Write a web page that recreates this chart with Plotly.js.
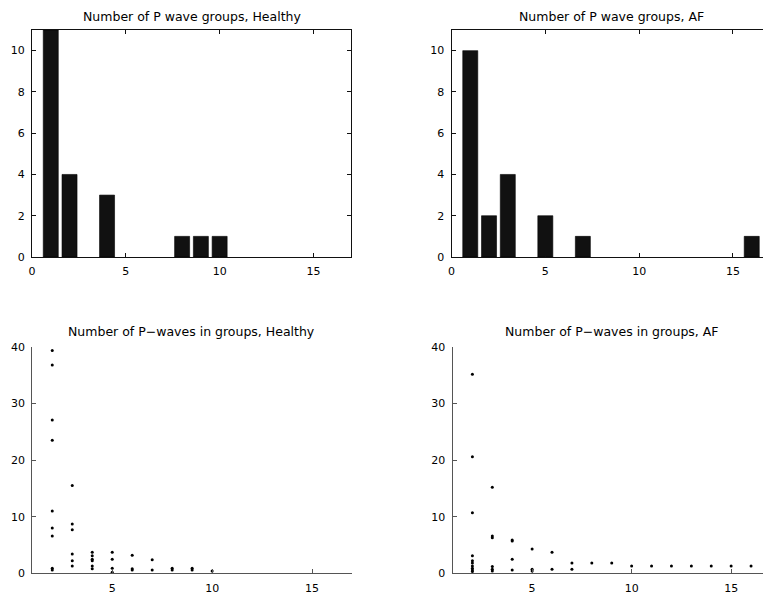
<!DOCTYPE html>
<html>
<head>
<meta charset="utf-8">
<script src="https://cdn.plot.ly/plotly-3.0.1.min.js"></script>
<style>html,body{margin:0;padding:0;overflow:hidden;background:#fff}</style>
</head>
<body>
<div id="chart" style="width:763px;height:595px"></div>
<script>
// Top: histogram of number of P wave groups
const healthyGroupX = [1, 2, 4, 8, 9, 10];
const healthyGroupCount = [11, 4, 3, 1, 1, 1];
const afGroupX = [1, 2, 3, 5, 7, 16];
const afGroupCount = [10, 2, 4, 2, 1, 1];

// Bottom: number of P-waves in groups (group size vs value)
const healthyWaveX = [2,2,2,2,2,2,2,2,2,
  3,3,3,3,3,3,
  4,4,4,4,4,4,
  5,5,5,5,
  6,6,6,
  7,7,
  8,8,
  9,9,
  10];
const healthyWaveY = [39.4,36.8,27.1,23.5,11.0,8.0,6.6,0.9,0.6,
  15.5,8.7,7.7,3.4,2.2,1.3,
  3.7,3.1,2.5,2.2,1.3,0.8,
  3.7,2.5,0.9,0.2,
  3.2,0.8,0.6,
  2.4,0.6,
  0.9,0.6,
  0.9,0.6,
  0.4];
const afWaveX = [2,2,2,2,2,2,2,2,2,2,
  3,3,3,3,3,3,
  4,4,4,4,
  5,5,5,
  6,6,
  7,7,
  8,9,10,11,12,13,14,15,16];
const afWaveY = [35.2,20.6,10.7,3.1,2.2,1.8,1.3,0.9,0.6,0.3,
  15.2,6.6,6.3,1.2,0.7,0.4,
  5.9,5.7,2.5,0.6,
  4.3,0.7,0.4,
  3.7,0.7,
  1.8,0.7,
  1.8,1.8,1.3,1.3,1.3,1.3,1.3,1.3,1.3];

const W = 763, H = 595;
const px = v => v / W;
const py = v => 1 - v / H;

const tickFont = {family: 'DejaVu Sans, sans-serif', size: 11, color: '#000'};
const titleFont = {family: 'DejaVu Sans, sans-serif', size: 12.5, color: '#000'};

function axis(lineColor, extra) {
  return Object.assign({
    showline: true, linecolor: lineColor, linewidth: 1,
    ticks: 'inside', ticklen: 4, tickcolor: lineColor, tickwidth: 1,
    showgrid: false, zeroline: false, tickfont: tickFont,
    ticklabelstandoff: 4, fixedrange: true
  }, extra);
}

const barStyle = {color: '#111111', line: {color: '#000', width: 0.6}};
const dotStyle = {color: '#000', size: 3};

const traces = [
  {type: 'bar', x: healthyGroupX, y: healthyGroupCount, width: 0.8, marker: barStyle, xaxis: 'x', yaxis: 'y', hoverinfo: 'x+y'},
  {type: 'bar', x: afGroupX, y: afGroupCount, width: 0.8, marker: barStyle, xaxis: 'x2', yaxis: 'y2', hoverinfo: 'x+y'},
  {type: 'scatter', mode: 'markers', x: healthyWaveX, y: healthyWaveY, marker: dotStyle, xaxis: 'x3', yaxis: 'y3', cliponaxis: false},
  {type: 'scatter', mode: 'markers', x: afWaveX, y: afWaveY, marker: dotStyle, xaxis: 'x4', yaxis: 'y4', cliponaxis: false}
];

const TOP = '#111', BOT = '#555';

const layout = {
  width: W, height: H,
  margin: {l: 0, r: 0, t: 0, b: 0},
  paper_bgcolor: '#fff', plot_bgcolor: '#fff',
  showlegend: false,
  bargap: 0,
  xaxis: axis(TOP, {domain: [px(32), px(351)], range: [0, 17], tickvals: [0, 5, 10, 15], mirror: 'ticks', anchor: 'y'}),
  yaxis: axis(TOP, {domain: [py(257), py(30)], range: [0, 11], tickvals: [0, 2, 4, 6, 8, 10], mirror: 'ticks', anchor: 'x'}),
  xaxis2: axis(TOP, {domain: [px(451.5), 1], range: [0, 16.6], tickvals: [0, 5, 10, 15], mirror: 'ticks', anchor: 'y2'}),
  yaxis2: axis(TOP, {domain: [py(257), py(30)], range: [0, 11], tickvals: [0, 2, 4, 6, 8, 10], anchor: 'x2'}),
  xaxis3: axis(BOT, {domain: [px(32.3), px(352)], range: [1, 17], tickvals: [5, 10, 15], anchor: 'y3'}),
  yaxis3: axis(BOT, {domain: [py(573.3), py(347)], range: [0, 40], tickvals: [0, 10, 20, 30, 40], anchor: 'x3'}),
  xaxis4: axis(BOT, {domain: [px(452.5), 1], range: [1, 16.6], tickvals: [5, 10, 15], anchor: 'y4'}),
  yaxis4: axis(BOT, {domain: [py(573.3), py(347)], range: [0, 40], tickvals: [0, 10, 20, 30, 40], anchor: 'x4'}),
  annotations: [
    {text: 'Number of P wave groups, Healthy', x: px(191.5), y: py(16.5)},
    {text: 'Number of P wave groups, AF', x: px(611), y: py(16.5)},
    {text: 'Number of P\u2212waves in groups, Healthy', x: px(192), y: py(331)},
    {text: 'Number of P\u2212waves in groups, AF', x: px(612), y: py(331)}
  ].map(a => Object.assign({xref: 'paper', yref: 'paper', showarrow: false, xanchor: 'center', yanchor: 'middle', font: titleFont}, a))
};

Plotly.newPlot('chart', traces, layout, {staticPlot: true, displayModeBar: false});
</script>
</body>
</html>
